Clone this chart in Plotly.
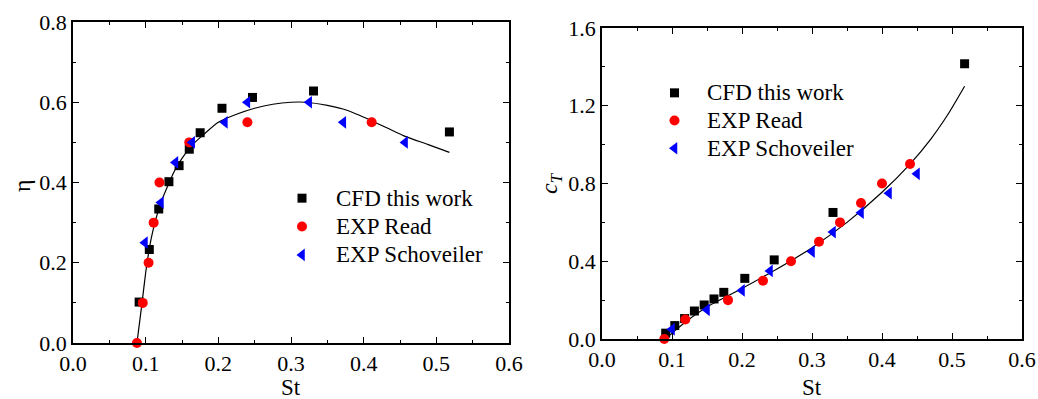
import plotly.graph_objects as go

# ---------------- Left panel: efficiency eta vs St ----------------
eta_cfd_st = [0.091, 0.105, 0.118, 0.132, 0.146, 0.160, 0.175, 0.205, 0.247, 0.331, 0.518]
eta_cfd = [0.102, 0.233, 0.334, 0.402, 0.442, 0.483, 0.524, 0.585, 0.612, 0.628, 0.526]

eta_read_st = [0.088, 0.096, 0.104, 0.111, 0.119, 0.160, 0.240, 0.411]
eta_read = [0.0, 0.10, 0.20, 0.30, 0.40, 0.50, 0.55, 0.55]

eta_sch_st = [0.099, 0.121, 0.141, 0.164, 0.209, 0.240, 0.325, 0.372, 0.457]
eta_sch = [0.25, 0.35, 0.45, 0.50, 0.55, 0.60, 0.60, 0.55, 0.50]

eta_fit_st = [0.088, 0.095, 0.100, 0.105, 0.110, 0.120, 0.130, 0.140, 0.150, 0.165,
              0.180, 0.200, 0.225, 0.250, 0.275, 0.300, 0.320, 0.350, 0.377, 0.411,
              0.457, 0.488, 0.518]
eta_fit = [0.0, 0.10, 0.175, 0.235, 0.28, 0.345, 0.39, 0.43, 0.46, 0.495,
           0.52, 0.55, 0.57, 0.585, 0.595, 0.60, 0.60, 0.592, 0.58, 0.554,
           0.515, 0.495, 0.475]

# ---------------- Right panel: thrust coefficient c_T vs St ----------------
ct_cfd_st = [0.091, 0.104, 0.118, 0.132, 0.146, 0.160, 0.174, 0.204, 0.246, 0.330, 0.518]
ct_cfd = [0.03, 0.069, 0.105, 0.144, 0.175, 0.206, 0.240, 0.312, 0.407, 0.651, 1.416]

ct_read_st = [0.089, 0.119, 0.18, 0.23, 0.27, 0.31, 0.34, 0.37, 0.40, 0.44]
ct_read = [0.0, 0.10, 0.20, 0.30, 0.40, 0.50, 0.60, 0.70, 0.80, 0.90]

ct_sch_st = [0.10, 0.15, 0.20, 0.24, 0.30, 0.33, 0.37, 0.41, 0.45]
ct_sch = [0.05, 0.15, 0.25, 0.35, 0.45, 0.55, 0.65, 0.75, 0.85]

ct_fit_st = [0.09, 0.10, 0.12, 0.15, 0.20, 0.25, 0.30, 0.35, 0.40, 0.44, 0.47, 0.495, 0.518]
ct_fit = [0.0, 0.03, 0.09, 0.165, 0.26, 0.36, 0.47, 0.60, 0.755, 0.90, 1.03, 1.16, 1.30]

legend_names = ["CFD this work", "EXP Read", "EXP Schoveiler"]
x_title = "St"
y_titles = ["η", "<i>c</i><sub><i>T</i></sub>"]

FONT = "'Liberation Serif', 'Times New Roman', Times, serif"
fig = go.Figure()

def lname(s):
    return '<span style="font-size:23px">' + s + '</span>'

def add_panel(xa, ya, leg, cfd_x, cfd_y, rd_x, rd_y, sc_x, sc_y, fx, fy):
    fig.add_trace(go.Scatter(x=fx, y=fy, mode="lines", line=dict(color="black", width=1.2, shape="spline", smoothing=0.6),
                             xaxis=xa, yaxis=ya, showlegend=False, hoverinfo="skip"))
    fig.add_trace(go.Scatter(x=cfd_x, y=cfd_y, mode="markers", name=lname(legend_names[0]),
                             marker=dict(symbol="square", size=9, color="black"),
                             xaxis=xa, yaxis=ya, legend=leg, cliponaxis=False))
    fig.add_trace(go.Scatter(x=rd_x, y=rd_y, mode="markers", name=lname(legend_names[1]),
                             marker=dict(symbol="circle", size=10, color="#ff0000"),
                             xaxis=xa, yaxis=ya, legend=leg, cliponaxis=False))
    fig.add_trace(go.Scatter(x=sc_x, y=sc_y, mode="markers", name=lname(legend_names[2]),
                             marker=dict(symbol="triangle-left", size=11, color="#0000ff"),
                             xaxis=xa, yaxis=ya, legend=leg, cliponaxis=False))

add_panel("x", "y", "legend", eta_cfd_st, eta_cfd, eta_read_st, eta_read, eta_sch_st, eta_sch, eta_fit_st, eta_fit)
add_panel("x2", "y2", "legend2", ct_cfd_st, ct_cfd, ct_read_st, ct_read, ct_sch_st, ct_sch, ct_fit_st, ct_fit)

tickfont = dict(family=FONT, size=22, color="black")
common = dict(showline=True, linecolor="black", linewidth=1.5, mirror="allticks",
              ticks="inside", ticklen=6, tickwidth=1.2, tickcolor="black",
              showgrid=False, zeroline=False, tickfont=tickfont, tickformat=".1f",
              automargin=False)

W, H = 1038, 399
fig.update_layout(
    width=W, height=H,
    margin=dict(l=0, r=0, t=0, b=0, autoexpand=False),
    paper_bgcolor="white", plot_bgcolor="white",
    font=dict(family=FONT, color="black"),
    xaxis=dict(domain=[73 / W, 509 / W], range=[0, 0.6], dtick=0.1, tick0=0,
               minor=dict(ticks="inside", ticklen=3, dtick=0.05, tickcolor="black"),
               anchor="y", **common),
    yaxis=dict(domain=[1 - 343 / H, 1 - 22 / H], range=[0, 0.8], dtick=0.2, tick0=0,
               minor=dict(ticks="inside", ticklen=3, dtick=0.1, tickcolor="black"),
               anchor="x", **common),
    xaxis2=dict(domain=[602 / W, 1022 / W], range=[0, 0.6], dtick=0.1, tick0=0,
                minor=dict(ticks="inside", ticklen=3, dtick=0.05, tickcolor="black"),
                anchor="y2", **common),
    yaxis2=dict(domain=[1 - 339 / H, 1 - 28 / H], range=[0, 1.6], dtick=0.4, tick0=0,
                minor=dict(ticks="inside", ticklen=3, dtick=0.2, tickcolor="black"),
                anchor="x2", **common),
    legend=dict(x=268 / W, y=1 - 179 / H, xanchor="left", yanchor="top",
                bgcolor="rgba(0,0,0,0)", font=dict(family=FONT, size=19.5),
                itemwidth=58),
    legend2=dict(x=642 / W, y=1 - 74 / H, xanchor="left", yanchor="top",
                 bgcolor="rgba(0,0,0,0)", font=dict(family=FONT, size=19),
                 itemwidth=55),
    annotations=[
        dict(text=x_title, xref="paper", yref="paper", x=291 / W, y=1 - 387 / H,
             xanchor="center", yanchor="middle", showarrow=False, font=dict(family=FONT, size=23)),
        dict(text=x_title, xref="paper", yref="paper", x=812 / W, y=1 - 387 / H,
             xanchor="center", yanchor="middle", showarrow=False, font=dict(family=FONT, size=23)),
        dict(text=y_titles[0], xref="paper", yref="paper", x=22 / W, y=1 - 186 / H, textangle=-90,
             xanchor="center", yanchor="middle", showarrow=False, font=dict(family=FONT, size=24)),
        dict(text=y_titles[1], xref="paper", yref="paper", x=551 / W, y=1 - 183 / H, textangle=-90,
             xanchor="center", yanchor="middle", showarrow=False, font=dict(family=FONT, size=24)),
    ],
)

fig.write_html("out.html", config={"displayModeBar": False},
               post_script="document.body.style.margin='0px';document.body.style.overflow='hidden';")
